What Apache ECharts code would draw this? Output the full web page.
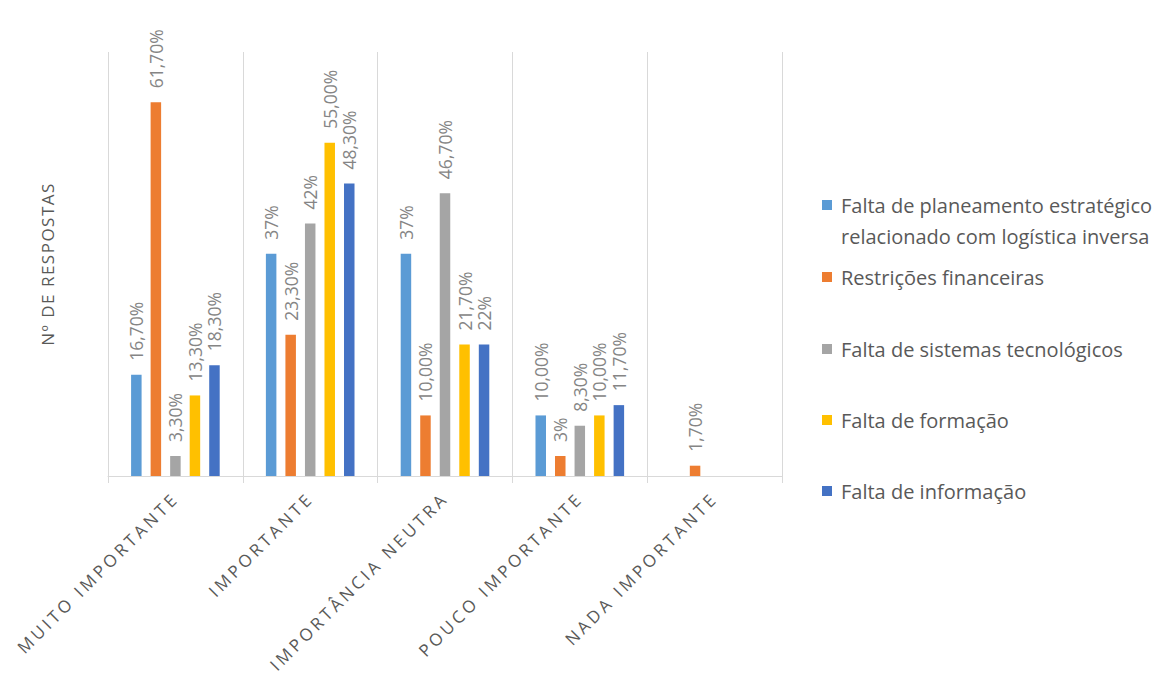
<!DOCTYPE html>
<html><head><meta charset="utf-8">
<script src="https://cdn.jsdelivr.net/npm/echarts@6/dist/echarts.min.js"></script>
<style>
html,body{margin:0;padding:0;background:#fff}
#c{width:1158px;height:677px}
#c text[fill="#595958"]{letter-spacing:3.4px}
#c text[fill="#595957"]{letter-spacing:1.5px}
</style></head><body><div id="c"></div>
<script>
const categories = ['MUITO IMPORTANTE', 'IMPORTANTE', 'IMPORTÂNCIA NEUTRA', 'POUCO IMPORTANTE', 'NADA IMPORTANTE'];
const seriesNames = ['Falta de planeamento estratégico relacionado com logística inversa', 'Restrições financeiras', 'Falta de sistemas tecnológicos', 'Falta de formação', 'Falta de informação'];
const planeamento = [16.7, 36.7, 36.7, 10.0, null];
const financeiras = [61.7, 23.3, 10.0, 3.3, 1.7];
const tecnologicos = [3.3, 41.7, 46.7, 8.3, null];
const formacao = [13.3, 55.0, 21.7, 10.0, null];
const informacao = [18.3, 48.3, 21.7, 11.7, null];
const planeamentoLabels = ['16,70%', '37%', '37%', '10,00%', ''];
const financeirasLabels = ['61,70%', '23,30%', '10,00%', '3%', '1,70%'];
const tecnologicosLabels = ['3,30%', '42%', '46,70%', '8,30%', ''];
const formacaoLabels = ['13,30%', '55,00%', '21,70%', '10,00%', ''];
const informacaoLabels = ['18,30%', '48,30%', '22%', '11,70%', ''];
const colors = ['#5B9BD5', '#ED7D31', '#A5A5A5', '#FFC000', '#4472C4'];

const values = [planeamento, financeiras, tecnologicos, formacao, informacao];
const labelSets = [planeamentoLabels, financeirasLabels, tecnologicosLabels, formacaoLabels, informacaoLabels];
const FONT = "'Open Sans', 'Noto Sans', sans-serif";

const legendTops = [158.5, 261.5, 333.5, 404.5, 475.5];
const legends = seriesNames.map((n, i) => ({
  data: [n], orient: 'vertical', left: 822, top: legendTops[i], padding: 0,
  icon: 'rect', itemWidth: 10, itemHeight: 10, selectedMode: false,
  formatter: i === 0 ? (s => ' \n' + s.replace(' relacionado', '\nrelacionado')) : '{name}',
  textStyle: { color: '#595959', fontSize: 20, fontFamily: FONT, lineHeight: 31,
    padding: [0, 0, 0, 4] }
}));

const series = seriesNames.map((n, i) => ({
  name: n, type: 'bar', data: values[i], barWidth: 10.5, barGap: '86%',
  itemStyle: { color: colors[i] },
  label: { show: true, position: 'top', rotate: 90, align: 'left', verticalAlign: 'middle',
    distance: 14, color: '#858585', fontSize: 17.5, fontFamily: FONT,
    formatter: p => labelSets[i][p.dataIndex] }
}));

const chart = echarts.init(document.getElementById('c'), null, { renderer: 'svg' });
chart.setOption({
  animation: false,
  backgroundColor: '#fff',
  grid: { left: 108, right: 376, top: 52, bottom: 201 },
  legend: legends,
  xAxis: {
    type: 'category', data: categories,
    axisLine: { lineStyle: { color: '#d9d9d9', width: 1 } },
    axisTick: { show: true, length: 7, lineStyle: { color: '#d9d9d9' } },
    splitLine: { show: true, lineStyle: { color: '#d9d9d9', width: 1 } },
    axisLabel: { rotate: 45, interval: 0, margin: 19, color: '#595958', fontSize: 17, fontFamily: FONT }
  },
  yAxis: {
    type: 'value', min: 0, max: 70,
    axisLabel: { show: false }, axisLine: { show: false }, axisTick: { show: false }, splitLine: { show: false },
    name: 'Nº DE RESPOSTAS', nameLocation: 'middle', nameGap: 52, nameRotate: 90,
    nameTextStyle: { color: '#595957', fontSize: 17, fontFamily: FONT }
  },
  series: series
});
</script></body></html>
